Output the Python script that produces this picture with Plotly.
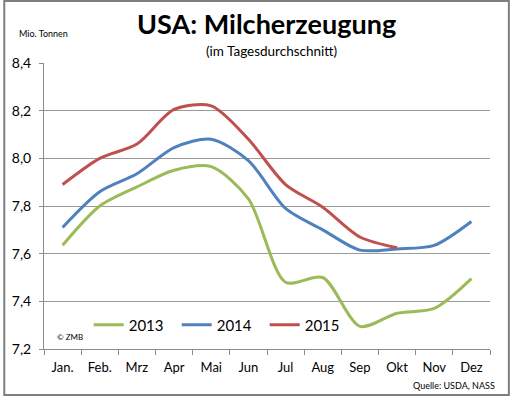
import plotly.graph_objects as go

months = ["Jan.", "Feb.", "Mrz", "Apr", "Mai", "Jun", "Jul", "Aug", "Sep", "Okt", "Nov", "Dez"]
y2013 = [7.635, 7.80, 7.88, 7.95, 7.965, 7.83, 7.48, 7.50, 7.295, 7.35, 7.37, 7.495]
y2014 = [7.71, 7.86, 7.935, 8.045, 8.08, 7.99, 7.79, 7.70, 7.615, 7.62, 7.635, 7.735]
y2015 = [7.89, 8.00, 8.06, 8.205, 8.22, 8.08, 7.89, 7.795, 7.67, 7.625]
y_ticks = [7.2, 7.4, 7.6, 7.8, 8.0, 8.2, 8.4]

colors = {"2013": "#9bbb59", "2014": "#4f81bd", "2015": "#c0504d"}
FONT = "Lato, 'Open Sans', sans-serif"

fig = go.Figure()
for name, vals in (("2013", y2013), ("2014", y2014), ("2015", y2015)):
    fig.add_trace(go.Scatter(
        x=months[:len(vals)], y=vals, name=name, mode="lines",
        line=dict(color=colors[name], width=3, shape="spline", smoothing=0.8),
    ))

L, R, T, B = 41, 20, 63, 47
W, H = 510, 396
pw, ph = W - L - R, H - T - B

fig.update_layout(
    width=W, height=H,
    margin=dict(l=L, r=R, t=T, b=B),
    paper_bgcolor="white", plot_bgcolor="white",
    separators=", ",
    font=dict(family=FONT, color="#000000"),
    showlegend=True,
    legend=dict(orientation="h", x=(86 - L) / pw, y=(349 - 325) / ph,
                xanchor="left", yanchor="middle",
                font=dict(size=15, family=FONT), bgcolor="rgba(0,0,0,0)",
                entrywidth=43, entrywidthmode="pixels", itemwidth=30),
    xaxis=dict(type="category", categoryarray=months, range=[-0.5, 11.5],
               showgrid=False, showline=True, linecolor="#8c8c8c", linewidth=1,
               ticks="outside", tickson="boundaries", ticklen=5, tickcolor="#8c8c8c",
               ticklabelstandoff=6,
               tickfont=dict(size=13, family=FONT), zeroline=False),
    yaxis=dict(range=[7.2, 8.4], tickvals=y_ticks, tickformat=".1f",
               showgrid=True, gridcolor="#9a9a9a", gridwidth=1,
               showline=True, linecolor="#8c8c8c", linewidth=1,
               ticks="outside", ticklen=4, tickcolor="#8c8c8c",
               ticklabelstandoff=5,
               tickfont=dict(size=14, family=FONT), zeroline=False),
)

fig.add_shape(type="rect", xref="paper", yref="paper",
              x0=-(L - 1) / pw, x1=1 + (R - 1) / pw, y0=-(B - 1) / ph, y1=1 + (T - 1) / ph,
              line=dict(color="#7f7f7f", width=2), fillcolor="rgba(0,0,0,0)", layer="above")

def px_x(x):
    return (x - L) / pw

def px_y(y):
    return (H - B - y) / ph

fig.add_annotation(text="<b>USA: Milcherzeugung</b>", x=px_x(265), y=px_y(23), xref="paper", yref="paper",
                   showarrow=False, font=dict(size=27, family=FONT), xanchor="center", yanchor="middle")
fig.add_annotation(text="(im Tagesdurchschnitt)", x=px_x(270), y=px_y(51), xref="paper", yref="paper",
                   showarrow=False, font=dict(size=13.5, family=FONT), xanchor="center", yanchor="middle")
fig.add_annotation(text="Mio. Tonnen", x=px_x(14), y=px_y(34), xref="paper", yref="paper",
                   showarrow=False, font=dict(size=9, family=FONT), xanchor="left", yanchor="middle")
fig.add_annotation(text="© ZMB", x=px_x(52), y=px_y(337), xref="paper", yref="paper",
                   showarrow=False, font=dict(size=8, family=FONT), xanchor="left", yanchor="middle")
fig.add_annotation(text="Quelle: USDA, NASS", x=px_x(497), y=px_y(385), xref="paper", yref="paper",
                   showarrow=False, font=dict(size=9, family=FONT), xanchor="right", yanchor="middle")

fig.write_html("out.html", config={"displayModeBar": False},
               post_script="document.body.style.margin='0';")
